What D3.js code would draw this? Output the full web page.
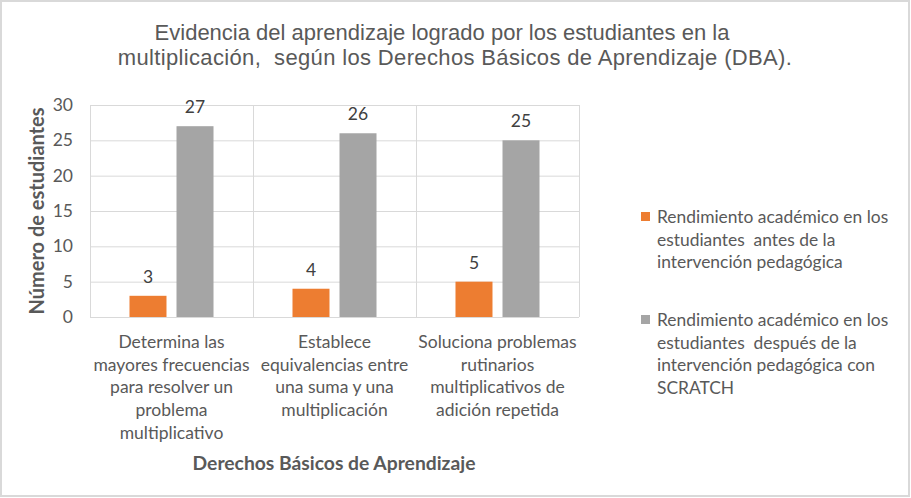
<!DOCTYPE html>
<html>
<head>
<meta charset="utf-8">
<script src="https://cdn.jsdelivr.net/npm/d3@7"></script>
<style>
  body { margin: 0; background: #fff; }
  svg { display: block; }
  text { white-space: pre; }
</style>
</head>
<body>
<script>
var width = 911,
    height = 498;

// data
var categories = [
  ["Determina las", "mayores frecuencias", "para resolver un", "problema", "multiplicativo"],
  ["Establece", "equivalencias entre", "una suma y una", "multiplicación"],
  ["Soluciona problemas", "rutinarios", "multiplicativos de", "adición repetida"]
];
var antes = [3, 4, 5];
var despues = [27, 26, 25];
var seriesNames = [
  ["Rendimiento académico en los", "estudiantes  antes de la", "intervención pedagógica"],
  ["Rendimiento académico en los", "estudiantes  después de la", "intervención pedagógica con", "SCRATCH"]
];
var colors = ["#ED7D31", "#A5A5A5"];
var yTicks = [0, 5, 10, 15, 20, 25, 30];
var titleLines = [
  "Evidencia del aprendizaje logrado por los estudiantes en la",
  "multiplicación,  según los Derechos Básicos de Aprendizaje (DBA)."
];

var font = "Lato, 'Open Sans', sans-serif",
    textColor = "#595959";

var svg = d3.select("body").append("svg")
    .attr("width", width)
    .attr("height", height);

// chart border
svg.append("rect")
    .attr("x", 1).attr("y", 1)
    .attr("width", width - 3).attr("height", height - 3)
    .attr("fill", "#fff")
    .attr("stroke", "#d9d9d9")
    .attr("stroke-width", 2);

var plot = { left: 90, right: 579, top: 105, bottom: 317 };

var x = d3.scaleBand()
    .domain(d3.range(categories.length))
    .range([plot.left, plot.right]);

var x1 = d3.scaleBand()
    .domain([0, 1])
    .range([0, x.bandwidth()])
    .paddingInner(0.213)
    .paddingOuter(0.84);

var y = d3.scaleLinear()
    .domain([0, 30])
    .range([plot.bottom, plot.top]);

// grid
var g = svg.append("g");
g.selectAll(".hgrid").data(yTicks).enter().append("line")
    .attr("x1", plot.left).attr("x2", plot.right)
    .attr("y1", function(d){ return y(d) + 0.5; })
    .attr("y2", function(d){ return y(d) + 0.5; })
    .attr("stroke", "#d9d9d9");

var bounds = d3.range(categories.length + 1);
g.selectAll(".vgrid").data(bounds).enter().append("line")
    .attr("x1", function(d){ return plot.left + d * x.bandwidth() + 0.5; })
    .attr("x2", function(d){ return plot.left + d * x.bandwidth() + 0.5; })
    .attr("y1", plot.top).attr("y2", plot.bottom)
    .attr("stroke", "#d9d9d9");

// y axis labels
var yAxis = d3.axisLeft(y).tickValues(yTicks).tickSize(0).tickPadding(17);
var ya = svg.append("g")
    .attr("transform", "translate(" + plot.left + ",0)")
    .call(yAxis);
ya.select(".domain").remove();
ya.selectAll("text")
    .attr("font-family", font)
    .attr("font-size", 17.5)
    .attr("fill", textColor);

// bars
var series = [antes, despues];
series.forEach(function(vals, s){
  svg.selectAll(".bar" + s).data(vals).enter().append("rect")
      .attr("x", function(d, i){ return x(i) + x1(s); })
      .attr("y", function(d){ return y(d); })
      .attr("width", x1.bandwidth())
      .attr("height", function(d){ return y(0) - y(d); })
      .attr("fill", colors[s]);

  svg.selectAll(".lab" + s).data(vals).enter().append("text")
      .attr("x", function(d, i){ return x(i) + x1(s) + x1.bandwidth() / 2; })
      .attr("y", function(d){ return y(d) - 13; })
      .attr("text-anchor", "middle")
      .attr("font-family", font)
      .attr("font-size", 17.5)
      .attr("fill", "#404040")
      .text(function(d){ return d; });
});

// category labels
categories.forEach(function(lines, i){
  svg.append("text")
      .attr("text-anchor", "middle")
      .attr("font-family", font)
      .attr("font-size", 17.5)
      .attr("fill", textColor)
      .selectAll("tspan").data(lines).enter().append("tspan")
      .attr("x", x(i) + x.bandwidth() / 2)
      .attr("y", function(d, k){ return 348 + k * 22.7; })
      .text(function(d){ return d; });
});

// axis titles
svg.append("text")
    .attr("x", 334).attr("y", 470)
    .attr("text-anchor", "middle")
    .attr("font-family", font)
    .attr("font-size", 19.3)
    .attr("font-weight", "bold")
    .attr("fill", textColor)
    .text("Derechos Básicos de Aprendizaje");

svg.append("text")
    .attr("transform", "translate(44,211) rotate(-90)")
    .attr("text-anchor", "middle")
    .attr("font-family", font)
    .attr("font-size", 20)
    .attr("font-weight", "bold")
    .attr("fill", textColor)
    .text("Número de estudiantes");

// title (second line is set a little looser in the original)
var titleX = [442, 455],
    titleSpacing = [0, 0.35];
svg.append("text")
    .attr("text-anchor", "middle")
    .attr("font-family", "'Liberation Sans', Arial, sans-serif")
    .attr("font-size", 22)
    .attr("fill", textColor)
    .selectAll("tspan").data(titleLines).enter().append("tspan")
    .attr("x", function(d, k){ return titleX[k]; })
    .attr("y", function(d, k){ return 40 + k * 24.5; })
    .attr("letter-spacing", function(d, k){ return titleSpacing[k]; })
    .text(function(d){ return d; });

// legend
var legendTop = [217, 320];
seriesNames.forEach(function(lines, s){
  svg.append("rect")
      .attr("x", 641).attr("y", legendTop[s] - 5)
      .attr("width", 9).attr("height", 9)
      .attr("fill", colors[s]);
  svg.append("text")
      .attr("font-family", font)
      .attr("font-size", 17.4)
      .attr("fill", textColor)
      .selectAll("tspan").data(lines).enter().append("tspan")
      .attr("x", 657)
      .attr("y", function(d, k){ return legendTop[s] + 6 + k * 22.7; })
      .text(function(d){ return d; });
});
</script>
</body>
</html>
